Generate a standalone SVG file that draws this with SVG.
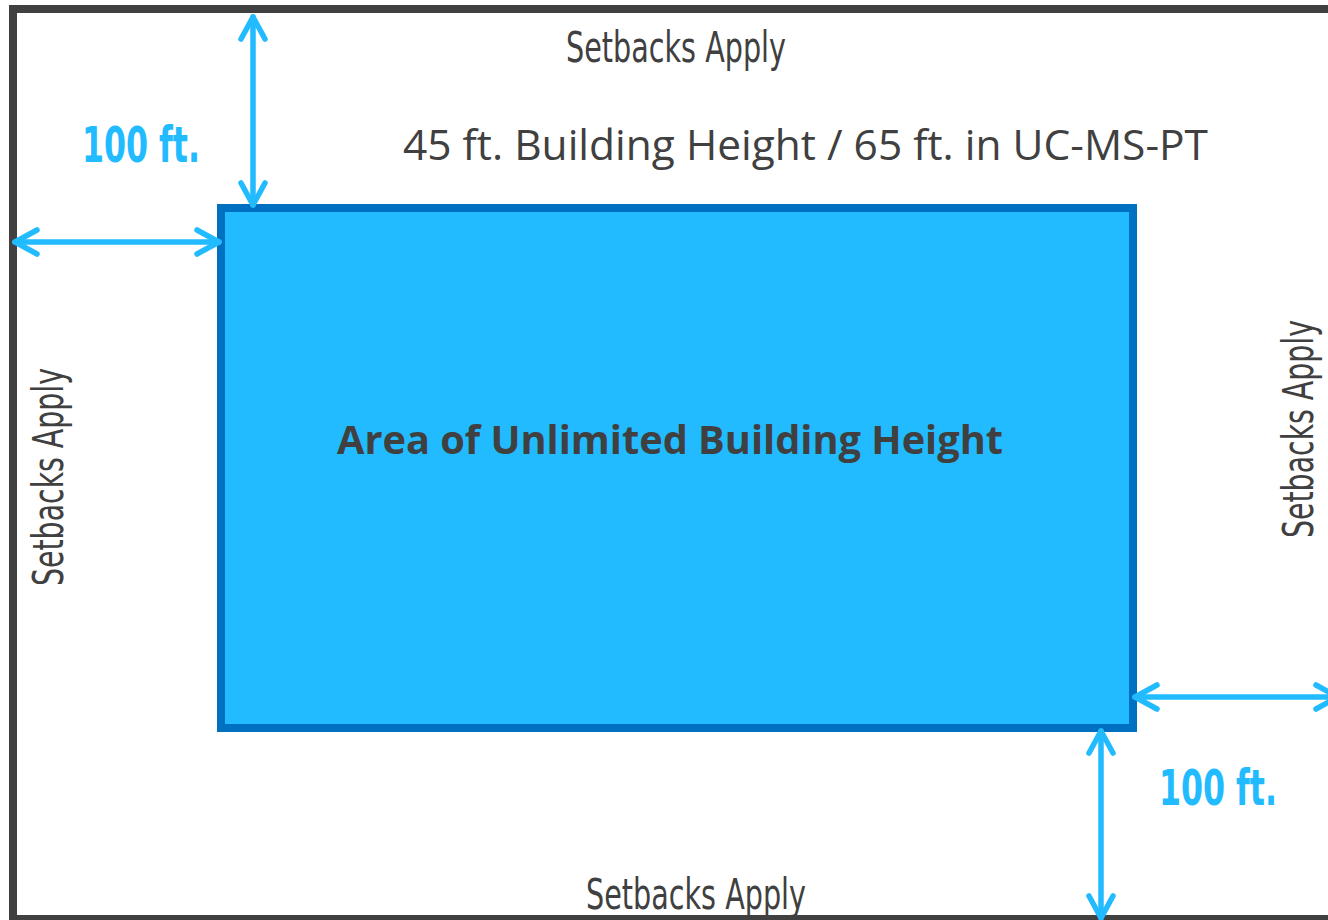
<svg xmlns="http://www.w3.org/2000/svg" width="1328" height="920" viewBox="0 0 1328 920">
  <defs>
    <style>
      .frame { fill: #ffffff; stroke: #404040; stroke-width: 8; }
      .zone { fill: #22bbff; stroke: #0070c0; stroke-width: 8; }
      .dim { fill: none; stroke: #22bbff; stroke-width: 5.5; stroke-linecap: round; marker-start: url(#chev); marker-end: url(#chev); }
      .cond { font-family: "Liberation Sans Narrow", "DejaVu Sans Condensed", "Liberation Sans", sans-serif; }
      .note { fill: #404040; font-size: 42px; }
      .dist { fill: #22bbff; font-size: 50px; font-weight: bold; }
      .label { font-family: "Open Sans", "Noto Sans", sans-serif; fill: #404040; }
    </style>
    <marker id="chev" markerUnits="userSpaceOnUse" viewBox="-26 -16 30 32" refX="0" refY="0" markerWidth="30" markerHeight="32" orient="auto-start-reverse" overflow="visible">
      <path d="M-22,-12 L0,0 L-22,12" fill="none" stroke="#22bbff" stroke-width="5.5" stroke-linecap="round" stroke-linejoin="round"/>
    </marker>
  </defs>

  <!-- lot boundary -->
  <g id="lot">
    <rect class="frame" x="13" y="9" width="1340" height="910"/>
  </g>

  <!-- buildable core -->
  <g id="core">
    <rect class="zone" x="221" y="208" width="912" height="520"/>
    <text class="label" x="337" y="454" font-size="40" font-weight="bold" textLength="666" lengthAdjust="spacingAndGlyphs">Area of Unlimited Building Height</text>
  </g>

  <!-- dimension arrows -->
  <g id="dimensions">
    <line class="dim" x1="253" y1="17" x2="253" y2="205"/>
    <line class="dim" x1="15" y1="242" x2="219" y2="242"/>
    <line class="dim" x1="1135" y1="697" x2="1338" y2="697"/>
    <line class="dim" x1="1101" y1="731" x2="1101" y2="918"/>
  </g>

  <g id="dist-top-left">
    <text class="cond dist" x="82" y="162" textLength="118" lengthAdjust="spacingAndGlyphs">100 ft.</text>
  </g>
  <g id="dist-bottom-right">
    <text class="cond dist" x="1159" y="805" textLength="118" lengthAdjust="spacingAndGlyphs">100 ft.</text>
  </g>

  <g id="height-note">
    <text class="label" x="403" y="160" font-size="42" textLength="805" lengthAdjust="spacingAndGlyphs">45 ft. Building Height / 65 ft. in UC-MS-PT</text>
  </g>

  <!-- setback notes on each side -->
  <g id="setback-top">
    <text class="cond note" x="566" y="62" textLength="220" lengthAdjust="spacingAndGlyphs">Setbacks Apply</text>
  </g>
  <g id="setback-bottom">
    <text class="cond note" x="586" y="909" textLength="220" lengthAdjust="spacingAndGlyphs">Setbacks Apply</text>
  </g>
  <g id="setback-left">
    <text class="cond note" transform="translate(63,586) rotate(-90)" x="0" y="0" textLength="218" lengthAdjust="spacingAndGlyphs">Setbacks Apply</text>
  </g>
  <g id="setback-right">
    <text class="cond note" transform="translate(1313,538) rotate(-90)" x="0" y="0" textLength="218" lengthAdjust="spacingAndGlyphs">Setbacks Apply</text>
  </g>
</svg>
